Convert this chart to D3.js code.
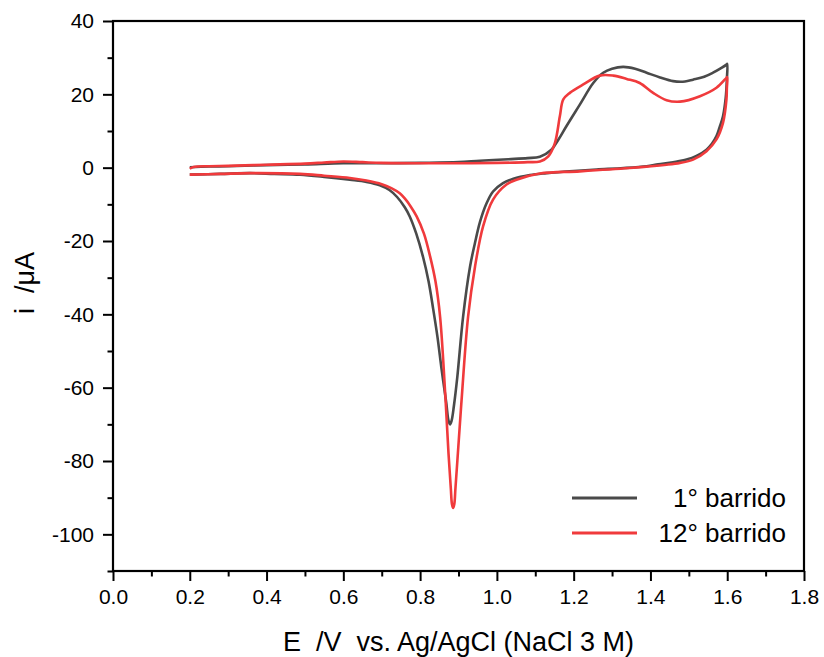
<!DOCTYPE html>
<html>
<head>
<meta charset="utf-8">
<script src="https://cdn.jsdelivr.net/npm/d3@7"></script>
<style>
body{margin:0;background:#fff;}
text{font-family:Arial,"Liberation Sans",sans-serif;}
</style>
</head>
<body>
<div class="box"></div>
<script>
// 1er barrido (gris): ida hasta 1.6 V y vuelta
const grayE=[0.20,0.25,0.30,0.40,0.50,0.60,0.70,0.80,0.90,0.956,1.03,1.08,1.112,1.142,1.16,1.181,1.216,1.251,1.277,1.30,1.329,1.36,1.39,1.425,1.459,1.49,1.511,1.54,1.563,1.585,1.598,1.60,
  1.599,1.596,1.589,1.58,1.572,1.56,1.546,1.52,1.494,1.459,1.42,1.39,1.33,1.26,1.20,1.129,1.086,1.043,1.016,0.99,0.972,0.956,0.943,0.930,0.912,0.897,0.888,0.882,0.878,0.874,0.868,0.856,0.845,0.834,0.822,0.808,0.79,0.773,0.76,0.74,0.72,0.695,0.66,0.617,0.55,0.487,0.42,0.357,0.28,0.20];
const grayI=[0.1,0.3,0.4,0.7,0.9,1.2,1.2,1.3,1.5,1.9,2.3,2.6,3.0,4.9,7.6,11.3,17.2,23.1,25.9,27.0,27.5,27.0,25.9,24.6,23.6,23.5,24.0,24.8,25.9,27.2,28.1,28.3,
  24,19,14,11,8.6,6.5,4.9,3.2,2.2,1.5,0.9,0.4,-0.1,-0.5,-0.9,-1.5,-2.0,-3.0,-4.2,-6.5,-10,-14.8,-20.5,-27,-40.6,-57,-65,-69,-70,-69,-64,-55,-46,-38.5,-31,-24.5,-18,-13.3,-10.8,-8.0,-6.1,-4.8,-3.9,-3.3,-2.5,-1.9,-1.7,-1.5,-1.7,-1.9];

// 12o barrido (rojo)
const redE=[0.20,0.21,0.25,0.30,0.40,0.50,0.55,0.60,0.65,0.70,0.80,0.90,1.00,1.08,1.112,1.134,1.151,1.164,1.173,1.19,1.225,1.268,1.303,1.338,1.372,1.407,1.442,1.477,1.529,1.572,1.598,1.60,
  1.599,1.598,1.589,1.572,1.546,1.511,1.477,1.442,1.346,1.216,1.112,1.051,1.025,0.99,0.964,0.943,0.925,0.908,0.897,0.892,0.889,0.886,0.883,0.880,0.874,0.865,0.852,0.84,0.826,0.81,0.791,0.775,0.76,0.747,0.725,0.70,0.66,0.617,0.55,0.487,0.357,0.28,0.20];
const redI=[-0.3,0.2,0.4,0.5,0.8,1.1,1.4,1.7,1.5,1.3,1.2,1.2,1.3,1.5,1.7,3.1,6.7,14,18.6,20.4,22.7,25.1,25.1,24.2,23.1,20.4,18.4,18.0,19.5,21.8,24.5,24.7,
  21.5,18.6,12.2,7.7,4.5,2.2,1.3,0.8,-0.1,-1.0,-1.6,-3.3,-4.6,-8.7,-16,-27,-40.6,-63.4,-80,-87.5,-91.8,-92.8,-91.8,-87.5,-78,-61,-40.6,-31,-24.2,-18,-13.3,-10.5,-8.4,-7.0,-5.6,-4.5,-3.5,-2.8,-2.2,-1.7,-1.5,-1.7,-1.9];

const xTicks=[0,0.2,0.4,0.6,0.8,1.0,1.2,1.4,1.6,1.8];
const xMinor=[0.1,0.3,0.5,0.7,0.9,1.1,1.3,1.5,1.7];
const yTicks=[-100,-80,-60,-40,-20,0,20,40];
const yMinor=[-110,-90,-70,-50,-30,-10,10,30];
const labels=['1° barrido','12° barrido'];
const colors=['#4a4a4a','#f03a3c'];

const W=824,H=657;
const margin={top:21,right:20,bottom:86,left:113};
const graphW=W-margin.left-margin.right;
const graphH=H-margin.top-margin.bottom;

const svg=d3.select('.box').append('svg').attr('width',W).attr('height',H).style('background','white');
const g=svg.append('g').attr('transform',`translate(${margin.left},${margin.top})`);

const x=d3.scaleLinear().domain([0,1.8]).range([0,graphW]);
const y=d3.scaleLinear().domain([-110,40]).range([graphH,0]);

const line=d3.line().x(d=>x(d[0])).y(d=>y(d[1])).curve(d3.curveCatmullRom.alpha(0.5));

const series=[d3.zip(grayE,grayI),d3.zip(redE,redI)];
g.selectAll('path.cv').data(series).enter().append('path')
  .attr('class','cv')
  .attr('d',line)
  .attr('fill','none')
  .attr('stroke',(d,i)=>colors[i])
  .attr('stroke-width',2.6)
  .attr('stroke-linejoin','round');

// ejes
const gX=g.append('g').attr('transform',`translate(0,${graphH})`);
gX.call(d3.axisBottom(x).tickValues(xTicks).tickSize(10).tickPadding(8).tickFormat(d3.format('.1f')));
const gXm=g.append('g').attr('transform',`translate(0,${graphH})`);
gXm.call(d3.axisBottom(x).tickValues(xMinor).tickSize(5.5).tickFormat(''));
const gY=g.append('g');
gY.call(d3.axisLeft(y).tickValues(yTicks).tickSize(10).tickPadding(9).tickFormat(d=>String(d)));
const gYm=g.append('g');
gYm.call(d3.axisLeft(y).tickValues(yMinor).tickSize(5.5).tickFormat(''));

[gX,gXm,gY,gYm].forEach(a=>{
  a.select('.domain').remove();
  a.selectAll('line').attr('stroke','#000').attr('stroke-width',2);
  a.selectAll('text').attr('font-size',21).attr('fill','#000').style('font-family','Arial,"Liberation Sans",sans-serif');
});

g.append('rect').attr('x',0).attr('y',0).attr('width',graphW).attr('height',graphH)
  .attr('fill','none').attr('stroke','#000').attr('stroke-width',2.2);

// titulos
svg.append('text').attr('x',margin.left+graphW/2).attr('y',651)
  .attr('text-anchor','middle').attr('font-size',27).style('white-space','pre')
  .text('E  /V  vs. Ag/AgCl (NaCl 3 M)');
svg.append('text').attr('transform','translate(34,283) rotate(-90)')
  .attr('text-anchor','middle').attr('font-size',27).style('white-space','pre')
  .text('i  /\u03bcA');

// leyenda
const leg=svg.append('g');
labels.forEach((t,i)=>{
  const ly=498+i*35;
  leg.append('line').attr('x1',572).attr('x2',637).attr('y1',ly).attr('y2',ly)
    .attr('stroke',colors[i]).attr('stroke-width',3);
  leg.append('text').attr('x',786).attr('y',ly+9).attr('text-anchor','end')
    .attr('font-size',26).text(t);
});
</script>
</body>
</html>
